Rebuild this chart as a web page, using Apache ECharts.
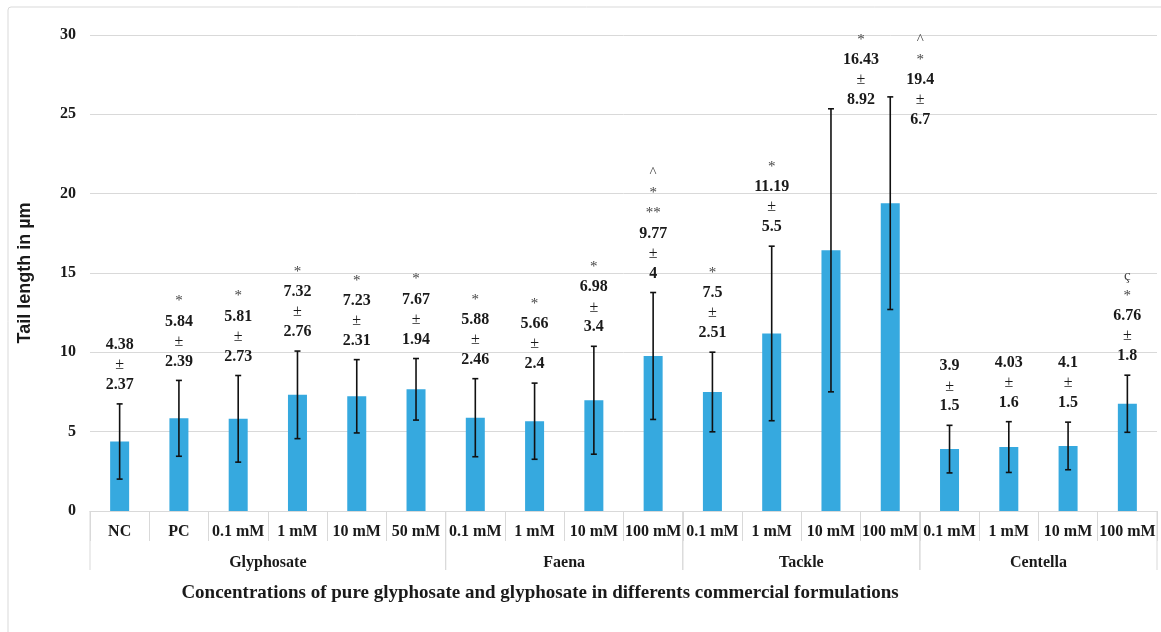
<!DOCTYPE html>
<html>
<head>
<meta charset="utf-8">
<script src="https://cdn.jsdelivr.net/npm/echarts@6/dist/echarts.min.js"></script>
<style>
    html, body { margin: 0; padding: 0; background: #fff; }
    #chart { width: 1161px; height: 632px; }
</style>
</head>
<body>
<div id="chart"></div>
<script>
    var categories = ['NC', 'PC', '0.1 mM', '1 mM', '10 mM', '50 mM',
        '0.1 mM', '1 mM', '10 mM', '100 mM',
        '0.1 mM', '1 mM', '10 mM', '100 mM',
        '0.1 mM', '1 mM', '10 mM', '100 mM'];
    var groups = ['Glyphosate', 'Faena', 'Tackle', 'Centella'];
    var groupSizes = [6, 4, 4, 4];
    var means = [4.38, 5.84, 5.81, 7.32, 7.23, 7.67, 5.88, 5.66, 6.98, 9.77, 7.5, 11.19, 16.43, 19.4, 3.9, 4.03, 4.1, 6.76];
    var sds = [2.37, 2.39, 2.73, 2.76, 2.31, 1.94, 2.46, 2.4, 3.4, 4, 2.51, 5.5, 8.92, 6.7, 1.5, 1.6, 1.5, 1.8];
    var marks = [[], ['*'], ['*'], ['*'], ['*'], ['*'], ['*'], ['*'], ['*'], ['^', '*', '**'],
        ['*'], ['*'], ['*'], ['^', '*'], [], [], [], ['ç', '*']];
    var yMin = 0, yMax = 30, yStep = 5;

    var serif = '"Liberation Serif", "Times New Roman", serif';
    var lineH = 20;

    // where each group starts on the category axis
    var groupStarts = [];
    var acc = 0;
    for (var g = 0; g < groupSizes.length; g++) {
        groupStarts.push(acc);
        acc += groupSizes[g];
    }

    function renderError(params, api) {
        var x = api.value(0);
        var lo = api.coord([x, api.value(1)]);
        var hi = api.coord([x, api.value(2)]);
        var cap = 3;
        var st = { stroke: '#111', lineWidth: 1.6 };
        return {
            type: 'group',
            children: [
                { type: 'line', shape: { x1: lo[0], y1: lo[1], x2: hi[0], y2: hi[1] }, style: st },
                { type: 'line', shape: { x1: lo[0] - cap, y1: lo[1], x2: lo[0] + cap, y2: lo[1] }, style: st },
                { type: 'line', shape: { x1: hi[0] - cap, y1: hi[1], x2: hi[0] + cap, y2: hi[1] }, style: st }
            ]
        };
    }

    function renderLabel(params, api) {
        var i = params.dataIndex;
        var pt = api.coord([api.value(0), api.value(1)]);
        var lines = marks[i].map(function (m) { return '{m|' + m + '}'; });
        lines.push('{v|' + means[i] + '}', '{p|±}', '{v|' + sds[i] + '}');
        var h = lines.length * lineH;
        var top = pt[1] - 9 - h;
        var minTop = api.coord([0, yMax])[1] - 5;
        var x = pt[0];
        if (top < minTop) {
            // no room above the whisker: move beside it
            top = minTop;
            x += 30;
        }
        return {
            type: 'text',
            style: {
                text: lines.join('\n'),
                x: x,
                y: top,
                align: 'center',
                verticalAlign: 'top',
                rich: {
                    m: { fontFamily: serif, fontSize: 15, fill: '#444', lineHeight: lineH, align: 'center' },
                    v: { fontFamily: serif, fontSize: 16, fontWeight: 'bold', fill: '#1a1a1a', lineHeight: lineH, align: 'center' },
                    p: { fontFamily: serif, fontSize: 16, fill: '#1a1a1a', lineHeight: lineH, align: 'center' }
                }
            }
        };
    }

    function renderGroup(params, api) {
        var i = params.dataIndex;
        var start = groupStarts[i];
        var bw = api.size([1, 0])[0];
        var left = api.coord([start, 0])[0] - bw / 2;
        var right = api.coord([start + groupSizes[i] - 1, 0])[0] + bw / 2;
        var y0 = api.coord([start, 0])[1];
        var st = { stroke: '#D9D9D9', lineWidth: 1 };
        return {
            type: 'group',
            children: [
                { type: 'line', shape: { x1: left, y1: y0, x2: left, y2: y0 + 59 }, style: st },
                { type: 'line', shape: { x1: right, y1: y0, x2: right, y2: y0 + 59 }, style: st },
                {
                    type: 'text',
                    style: {
                        text: groups[i], x: (left + right) / 2, y: y0 + 52,
                        align: 'center', verticalAlign: 'middle',
                        fontFamily: serif, fontSize: 16, fontWeight: 'bold', fill: '#1a1a1a'
                    }
                }
            ]
        };
    }

    var chart = echarts.init(document.getElementById('chart'));
    var option = {
        animation: false,
        backgroundColor: '#fff',
        grid: { left: 90, right: 4, top: 35, bottom: 121 },
        graphic: [
            {
                type: 'rect', z: -10,
                shape: { x: 8, y: 7, width: 1170, height: 640, r: 3 },
                style: { fill: 'none', stroke: '#D9D9D9', lineWidth: 1 }
            },
            {
                type: 'text', x: 540, y: 593,
                style: {
                    text: 'Concentrations of pure glyphosate and glyphosate in differents commercial formulations',
                    align: 'center', verticalAlign: 'middle',
                    fontFamily: serif, fontSize: 19, fontWeight: 'bold', fill: '#1a1a1a'
                }
            }
        ],
        xAxis: {
            type: 'category',
            data: categories,
            axisLine: { lineStyle: { color: '#D9D9D9' } },
            axisTick: { show: true, interval: 0, length: 30, lineStyle: { color: '#D9D9D9' } },
            axisLabel: {
                interval: 0, margin: 13,
                fontFamily: serif, fontSize: 16, fontWeight: 'bold', color: '#1a1a1a'
            }
        },
        yAxis: {
            type: 'value',
            min: yMin, max: yMax, interval: yStep,
            name: 'Tail length in µm',
            nameLocation: 'middle',
            nameGap: 56,
            nameTextStyle: { fontFamily: '"Liberation Sans", Arial, sans-serif', fontSize: 18, fontWeight: 'bold', color: '#1a1a1a' },
            axisLine: { show: false },
            axisTick: { show: false },
            splitLine: { lineStyle: { color: '#D9D9D9' } },
            axisLabel: { margin: 14, fontFamily: serif, fontSize: 16, fontWeight: 'bold', color: '#1a1a1a' }
        },
        series: [
            {
                type: 'bar',
                barWidth: 19,
                itemStyle: { color: '#36A9DF' },
                data: means
            },
            {
                type: 'custom',
                renderItem: renderError,
                encode: { x: 0, y: [1, 2] },
                z: 3,
                data: means.map(function (m, i) { return [i, m - sds[i], m + sds[i]]; })
            },
            {
                type: 'custom',
                renderItem: renderLabel,
                encode: { x: 0, y: 1 },
                z: 4,
                data: means.map(function (m, i) { return [i, m + sds[i]]; })
            },
            {
                type: 'custom',
                renderItem: renderGroup,
                encode: { x: 0, y: 1 },
                clip: false,
                data: groupStarts.map(function (s) { return [s, 0]; })
            }
        ]
    };
    chart.setOption(option);
</script>
</body>
</html>
